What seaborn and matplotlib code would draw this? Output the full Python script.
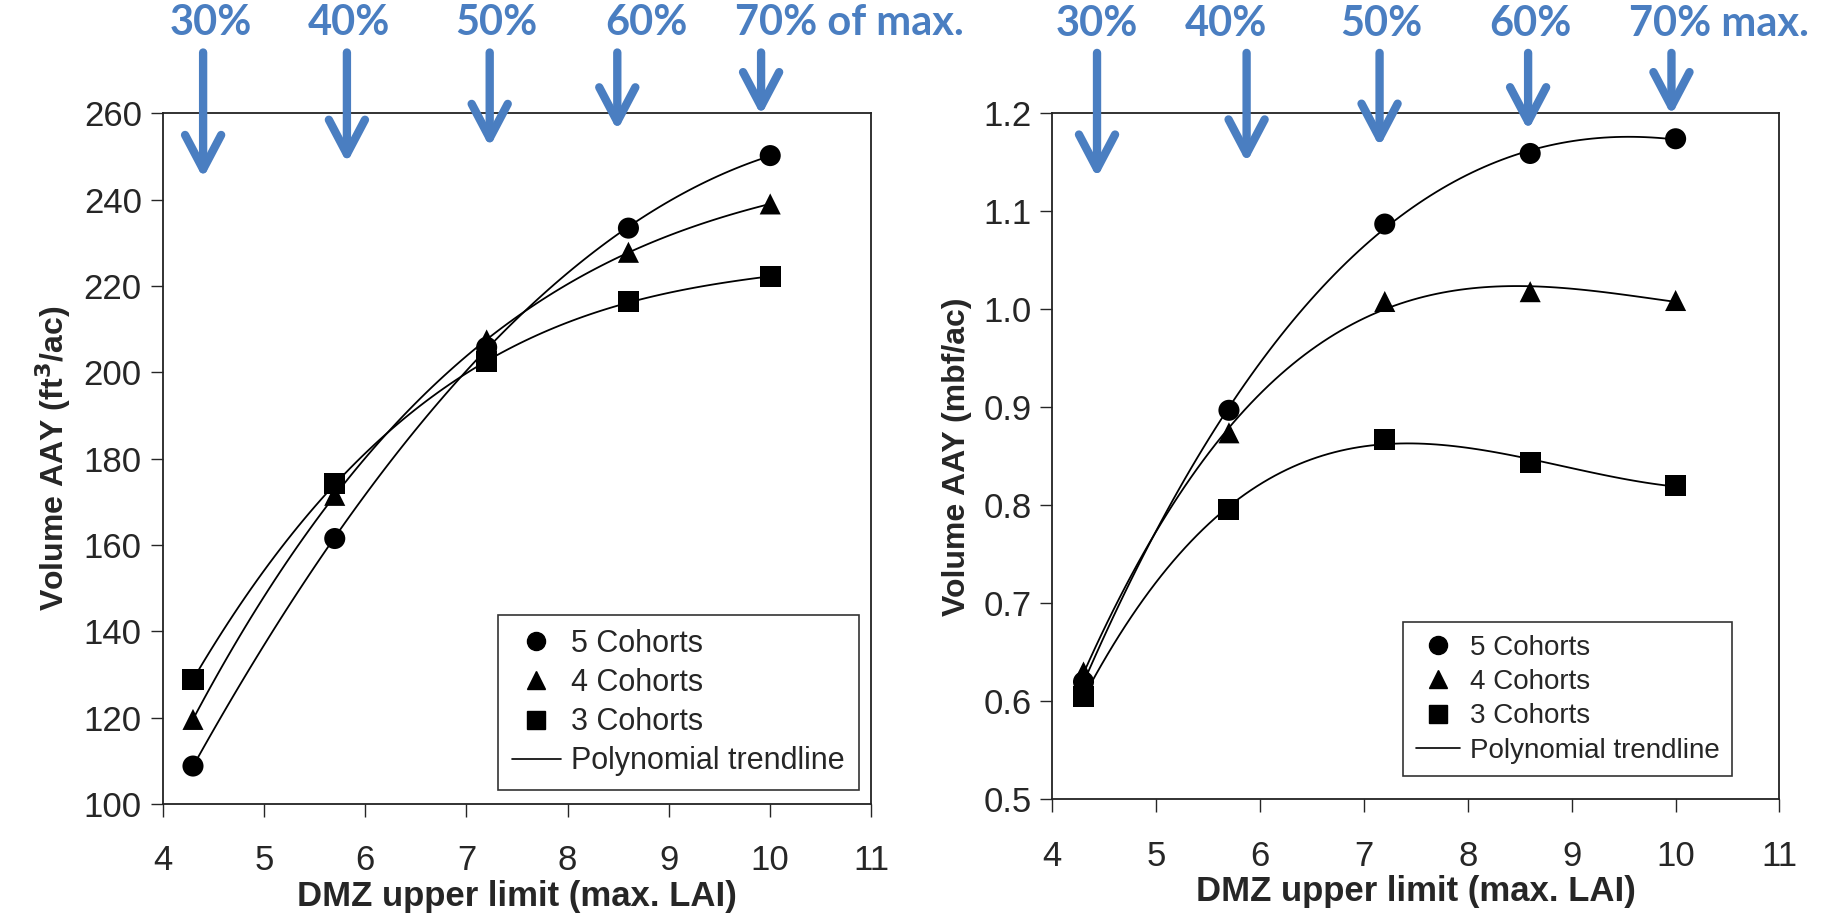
import matplotlib
matplotlib.use('Agg')
import seaborn as sns
import matplotlib.pyplot as plt
from matplotlib.lines import Line2D
import pandas as pd

# DMZ upper limit (max. LAI) for each run
lai = [4.3, 5.7, 7.2, 8.6, 10.0]
cohorts = ['5 Cohorts', '4 Cohorts', '3 Cohorts']
marks = {'5 Cohorts': 'o', '4 Cohorts': '^', '3 Cohorts': 's'}

# volume AAY, ft3/ac
ft3_5 = [108.8, 161.5, 205.8, 233.4, 250.2]
ft3_4 = [119.6, 171.5, 207.5, 227.8, 239.0]
ft3_3 = [128.8, 174.2, 202.4, 216.3, 222.2]
# volume AAY, mbf/ac
mbf_5 = [0.620, 0.897, 1.087, 1.159, 1.174]
mbf_4 = [0.630, 0.874, 1.008, 1.018, 1.009]
mbf_3 = [0.605, 0.796, 0.867, 0.844, 0.820]

# blue "% of max." callouts
left_pct = ['30%', '40%', '50%', '60%', '70% of max.']
right_pct = ['30%', '40%', '50%', '60%', '70% max.']
left_arrow_x = [4.40, 5.82, 7.23, 8.49, 9.91]
right_arrow_x = [4.43, 5.87, 7.15, 8.58, 9.96]
left_text_x = [4.48, 5.84, 7.30, 8.78, 9.65]
right_text_x = [4.43, 5.67, 7.17, 8.6, 9.55]
arrow_tip = [0.906, 0.928, 0.951, 0.975, 0.997]

blue = '#4a7ec1'

def long_table(v5, v4, v3):
    rows = []
    for name, vals in zip(cohorts, [v5, v4, v3]):
        for x, y in zip(lai, vals):
            rows.append({'lai': x, 'val': y, 'cohort': name})
    return pd.DataFrame(rows)

sns.set_style('ticks')
plt.rcParams['font.family'] = ['Liberation Sans', 'DejaVu Sans']

fig = plt.figure(figsize=(18.27, 9.21), dpi=100)
ax1 = fig.add_axes([0.089, 0.127, 0.388, 0.75])
ax2 = fig.add_axes([0.576, 0.132, 0.398, 0.745])

def draw(ax, df, ylim, yticks, fmt, ylabel, pct, arrow_x, text_x, leg_size, leg_anchor):
    for name in cohorts:
        sub = df[df.cohort == name]
        sns.regplot(data=sub, x='lai', y='val', order=3, ci=None, scatter=False,
                    color='black', line_kws={'lw': 1.3}, ax=ax)
    sns.scatterplot(data=df, x='lai', y='val', style='cohort', markers=marks,
                    color='black', s=230, edgecolor='none', legend=False, ax=ax, zorder=5)
    ax.set_xlim(4, 11)
    ax.set_ylim(*ylim)
    ax.set_xticks(range(4, 12))
    ax.set_yticks(yticks)
    ax.set_yticklabels([fmt.format(t) for t in yticks])
    ax.tick_params(labelsize=25, length=9, width=1, direction='out', pad=20)
    ax.tick_params(axis='y', pad=6)
    for sp in ax.spines.values():
        sp.set_linewidth(1.3)
        sp.set_color('#222222')
    ax.set_xlabel('DMZ upper limit (max. LAI)', fontsize=25, fontweight='bold', labelpad=2)
    ax.set_ylabel(ylabel, fontsize=23, fontweight='bold', labelpad=8)

    handles = [Line2D([], [], marker=marks[c], color='black', lw=0, markersize=13) for c in cohorts]
    handles.append(Line2D([], [], color='black', lw=1.2))
    leg = ax.legend(handles, cohorts + ['Polynomial trendline'], loc='lower right',
                    bbox_to_anchor=leg_anchor, fontsize=leg_size, frameon=True, fancybox=False,
                    handlelength=1.6, handletextpad=0.35, borderpad=0.45, labelspacing=0.3,
                    borderaxespad=0.0)
    leg.get_frame().set_edgecolor('black')
    leg.get_frame().set_linewidth(1.2)

    tr = ax.get_xaxis_transform()
    for ax_x, tip in zip(arrow_x, arrow_tip):
        ax.annotate('', xy=(ax_x, tip), xytext=(ax_x, 1.088), xycoords=tr, textcoords=tr,
                    annotation_clip=False,
                    arrowprops=dict(arrowstyle='->,head_length=0.95,head_width=0.5',
                                    color=blue, lw=6, mutation_scale=26, shrinkA=0, shrinkB=0))
    for i, (lab, tx) in enumerate(zip(pct, text_x)):
        ax.text(tx, 1.130, lab, transform=tr, ha='left' if i == len(pct) - 1 else 'center',
                va='center', color=blue, fontsize=30, fontweight='bold',
                family=['Lato', 'DejaVu Sans'])

draw(ax1, long_table(ft3_5, ft3_4, ft3_3), (100, 260), list(range(100, 261, 20)), '{:.0f}',
     r'Volume AAY (ft$^\mathbf{3}$/ac)', left_pct, left_arrow_x, left_text_x,
     22, (0.982, 0.02))
draw(ax2, long_table(mbf_5, mbf_4, mbf_3), (0.5, 1.2), [0.5, 0.6, 0.7, 0.8, 0.9, 1.0, 1.1, 1.2],
     '{:.1f}', 'Volume AAY (mbf/ac)', right_pct, right_arrow_x, right_text_x,
     20, (0.935, 0.034))

fig.savefig('out.png', dpi=100)
